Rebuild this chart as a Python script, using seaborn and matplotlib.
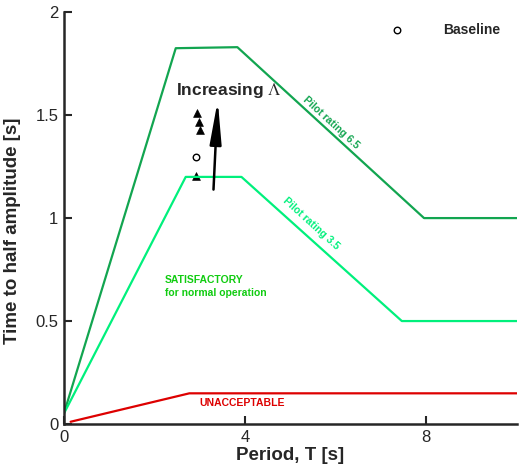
import numpy as np
import pandas as pd
import matplotlib
matplotlib.use("Agg")
import matplotlib.pyplot as plt
import seaborn as sns

# boundary lines (period T [s], time to half amplitude [s])
pr65_T = [0, 2.47, 3.83, 7.95, 10]
pr65_t = [0.05, 1.825, 1.83, 1.0, 1.0]
pr35_T = [0, 2.69, 3.92, 7.46, 10]
pr35_t = [0.05, 1.2, 1.2, 0.5, 0.5]
unacc_T = [0.15, 2.77, 10]
unacc_t = [0.011, 0.149, 0.149]

# test points
tri_T = [2.91, 2.95, 2.98, 3.0]
tri_t = [1.204, 1.508, 1.467, 1.427]
base_T = [2.91]
base_t = [1.295]

dark_green = "#12a550"
light_green = "#00f07c"
sat_green = "#11cc11"
red = "#dd0000"

sns.set_style("ticks")
plt.rcParams["font.family"] = ["Liberation Sans", "DejaVu Sans"]
plt.rcParams["mathtext.fontset"] = "stix"

fig = plt.figure(figsize=(5.19, 4.68), dpi=100)
ax = fig.add_axes([0.123, 0.094, 0.873, 0.88])

df65 = pd.DataFrame({"T": pr65_T, "t": pr65_t})
df35 = pd.DataFrame({"T": pr35_T, "t": pr35_t})
dfu = pd.DataFrame({"T": unacc_T, "t": unacc_t})
sns.lineplot(data=df65, x="T", y="t", sort=False, color=dark_green, lw=1.6, ax=ax)
sns.lineplot(data=df35, x="T", y="t", sort=False, color=light_green, lw=1.6, ax=ax)
sns.lineplot(data=dfu, x="T", y="t", sort=False, color=red, lw=1.6, ax=ax)

sns.scatterplot(x=tri_T, y=tri_t, marker="^", s=32, color="black", edgecolor="black", ax=ax)
sns.scatterplot(x=base_T, y=base_t, marker="o", s=22, facecolor="white",
                edgecolor="black", linewidth=1.0, ax=ax)
# legend entry
sns.scatterplot(x=[7.35], y=[1.913], marker="o", s=22, facecolor="white",
                edgecolor="black", linewidth=1.0, ax=ax)
ax.text(8.37, 1.913, "Baseline", fontsize=10, fontweight="bold", va="center")

ax.annotate("", xy=(3.40, 1.585), xytext=(3.30, 1.125),
            arrowprops=dict(arrowstyle="-|>,head_length=2.6,head_width=0.35",
                            mutation_scale=10, lw=1.8, color="black"))
ax.text(2.47, 1.62, r"Increasing $\Lambda$", fontsize=12.5, fontweight="bold", va="center")

ax.text(5.89, 1.466, "Pilot rating 6.5", fontsize=7.5, fontweight="bold", color=dark_green,
        rotation=-42.4, ha="center", va="center", rotation_mode="anchor")
ax.text(5.46, 0.973, "Pilot rating 3.5", fontsize=7.5, fontweight="bold", color=light_green,
        rotation=-42.2, ha="center", va="center", rotation_mode="anchor")
ax.text(2.23, 0.70, "SATISFACTORY", fontsize=7.5, fontweight="bold", color=sat_green, va="center")
ax.text(2.23, 0.635, "for normal operation", fontsize=7.5, fontweight="bold", color=sat_green, va="center")
ax.text(3.0, 0.10, "UNACCEPTABLE", fontsize=7.5, fontweight="bold", color=red, va="center")

ax.set_xlim(0, 10)
ax.set_ylim(0, 2)
ax.set_xticks([0, 4, 8])
ax.set_yticks([0, 0.5, 1, 1.5, 2])
ax.set_yticklabels(["0", "0.5", "1", "1.5", "2"])
ax.tick_params(direction="in", length=6, width=1.5, labelsize=12, pad=4)
for side in ["left", "bottom"]:
    ax.spines[side].set_linewidth(1.8)
sns.despine(ax=ax)
ax.set_xlabel("Period, T [s]", fontsize=13.5, fontweight="bold", labelpad=2)
ax.set_ylabel("Time to half amplitude [s]", fontsize=13.5, fontweight="bold", labelpad=6)
ax.yaxis.set_label_coords(-0.095, 0.47)

fig.savefig("out.png", dpi=100)
